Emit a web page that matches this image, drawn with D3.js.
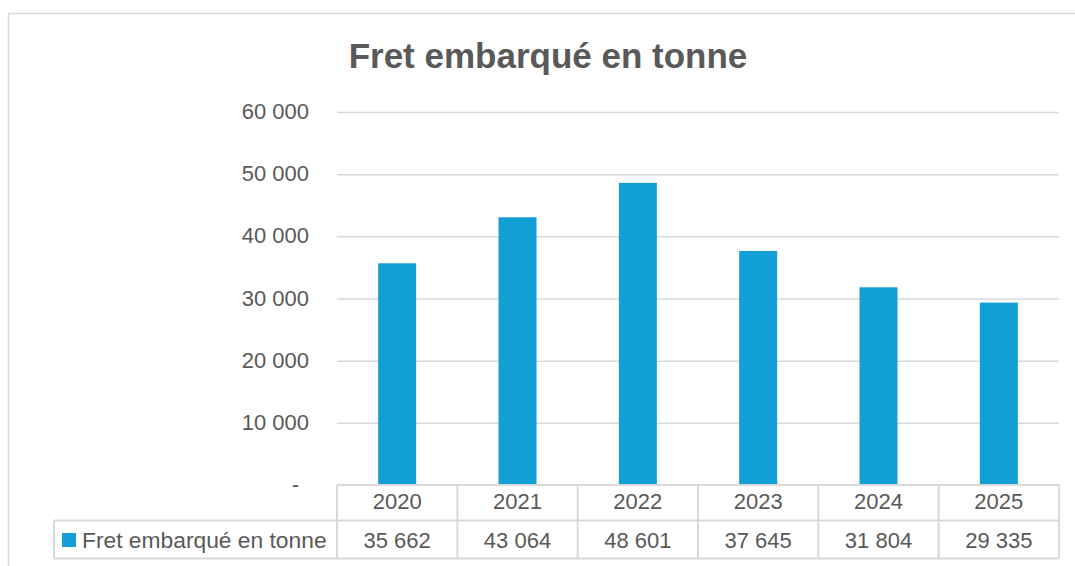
<!DOCTYPE html>
<html>
<head>
<meta charset="utf-8">
<script src="https://cdn.jsdelivr.net/npm/d3@7"></script>
<style>
  html, body { margin: 0; padding: 0; background: #fff; }
  svg { display: block; }
  text { font-family: "Liberation Sans", Arial, sans-serif; fill: #595959; }
</style>
</head>
<body>
<svg id="chart" width="1075" height="566"></svg>
<script>
// Freight loaded per year, in tonnes
const years = ["2020", "2021", "2022", "2023", "2024", "2025"];
const tonnes = [35662, 43064, 48601, 37645, 31804, 29335];
const yTicks = [0, 10000, 20000, 30000, 40000, 50000, 60000];
const seriesName = "Fret embarqué en tonne";
const chartTitle = "Fret embarqué en tonne";

const barColor = "#129fd6";
const gridColor = "#d9d9d9";
const labelSize = "22px";

const fr = d3.formatLocale({ decimal: ",", thousands: "\u00a0", grouping: [3], currency: ["", " €"] });
const fmt = fr.format(",d");
const fmtTick = v => v === 0 ? "-" : fmt(v);

const svg = d3.select("#chart");

// outer chart frame
svg.append("rect")
  .attr("x", 8.5).attr("y", 13.5)
  .attr("width", 1200).attr("height", 700)
  .attr("fill", "none").attr("stroke", gridColor).attr("stroke-width", 1.5);

const plotLeft = 337, plotRight = 1059;
const plotTop = 112, plotBottom = 485;

const x = d3.scaleBand().domain(years).range([plotLeft, plotRight]).paddingInner(0.684).paddingOuter(0.342);
const cols = d3.scaleBand().domain(years).range([plotLeft, plotRight]);
const y = d3.scaleLinear().domain([0, 60000]).range([plotBottom, plotTop]);

// title
svg.append("text")
  .attr("x", 548).attr("y", 68)
  .attr("text-anchor", "middle")
  .style("font-size", "35px").style("font-weight", "bold")
  .text(chartTitle);

// gridlines and value axis
const yAxis = d3.axisLeft(y).tickValues(yTicks).tickSize(-(plotRight - plotLeft)).tickPadding(28).tickFormat(fmtTick);
const gy = svg.append("g").attr("transform", `translate(${plotLeft},0)`).call(yAxis);
gy.select(".domain").remove();
gy.selectAll(".tick line").attr("stroke", gridColor).attr("stroke-width", 1.5)
  .filter(d => d === 0).remove();
gy.selectAll(".tick text").style("font-size", labelSize).attr("fill", "#595959").attr("dy", "0.3em");
// accounting-style zero sits a little further left
gy.selectAll(".tick text").filter(d => d === 0).attr("dx", "-0.45em");

// bars
svg.append("g").selectAll("rect")
  .data(years.map((yr, i) => ({ yr, v: tonnes[i] })))
  .join("rect")
  .attr("x", d => x(d.yr))
  .attr("width", x.bandwidth())
  .attr("y", d => y(d.v))
  .attr("height", d => y(0) - y(d.v))
  .attr("fill", barColor);

// data table below the plot
const rowTop = plotBottom, rowMid = 520.5, rowBot = 558.5;
const legendLeft = 54;
const tbl = svg.append("g").attr("stroke", gridColor).attr("stroke-width", 2).attr("fill", "none");
tbl.append("line").attr("x1", plotLeft).attr("x2", plotRight).attr("y1", rowTop).attr("y2", rowTop);
tbl.append("line").attr("x1", legendLeft).attr("x2", plotRight).attr("y1", rowMid).attr("y2", rowMid);
tbl.append("line").attr("x1", legendLeft).attr("x2", plotRight).attr("y1", rowBot).attr("y2", rowBot);
tbl.append("line").attr("x1", legendLeft).attr("x2", legendLeft).attr("y1", rowMid).attr("y2", rowBot);
years.forEach(yr => {
  tbl.append("line").attr("x1", cols(yr)).attr("x2", cols(yr)).attr("y1", rowTop).attr("y2", rowBot);
});
tbl.append("line").attr("x1", plotRight).attr("x2", plotRight).attr("y1", rowTop).attr("y2", rowBot);

svg.append("g").selectAll("text.yr")
  .data(years).join("text")
  .attr("x", d => cols(d) + cols.bandwidth() / 2)
  .attr("y", 501.5).attr("dy", "0.35em")
  .attr("text-anchor", "middle").style("font-size", labelSize)
  .text(d => d);

svg.append("g").selectAll("text.val")
  .data(years.map((yr, i) => ({ yr, v: tonnes[i] }))).join("text")
  .attr("x", d => cols(d.yr) + cols.bandwidth() / 2)
  .attr("y", 540).attr("dy", "0.35em")
  .attr("text-anchor", "middle").style("font-size", labelSize)
  .text(d => fmt(d.v));

svg.append("rect")
  .attr("x", 62).attr("y", 533).attr("width", 14).attr("height", 14)
  .attr("fill", barColor);
svg.append("text")
  .attr("x", 82).attr("y", 540).attr("dy", "0.35em")
  .style("font-size", "22.8px")
  .text(seriesName);
</script>
</body>
</html>
